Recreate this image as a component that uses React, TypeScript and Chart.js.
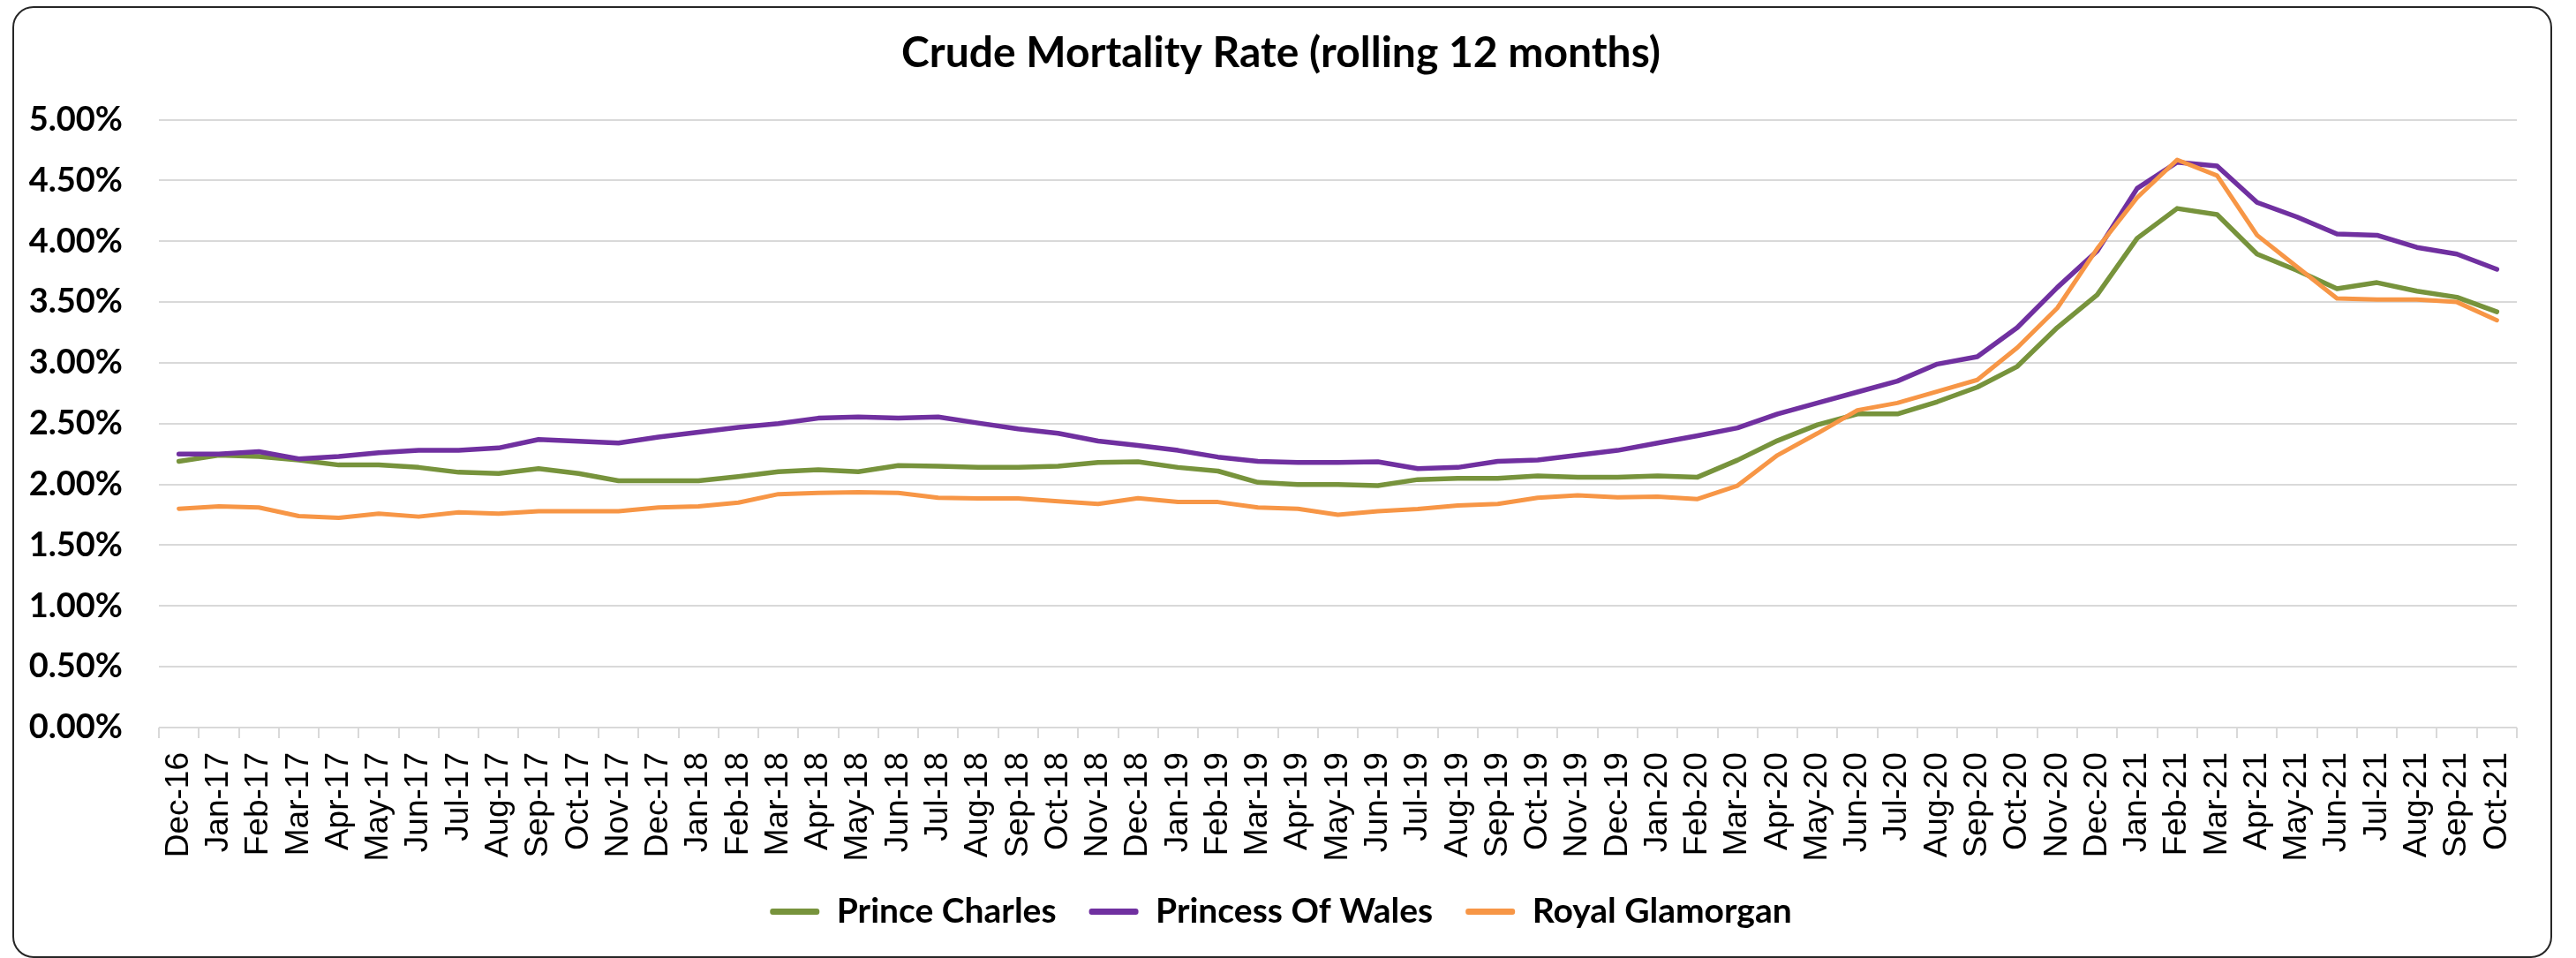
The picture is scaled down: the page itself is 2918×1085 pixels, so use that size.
import React, { useEffect, useRef } from "react";
import { Chart, registerables } from "chart.js";

Chart.register(...registerables);

const categories = [
  "Dec-16",
  "Jan-17", "Feb-17", "Mar-17", "Apr-17", "May-17", "Jun-17", "Jul-17", "Aug-17", "Sep-17", "Oct-17", "Nov-17", "Dec-17",
  "Jan-18", "Feb-18", "Mar-18", "Apr-18", "May-18", "Jun-18", "Jul-18", "Aug-18", "Sep-18", "Oct-18", "Nov-18", "Dec-18",
  "Jan-19", "Feb-19", "Mar-19", "Apr-19", "May-19", "Jun-19", "Jul-19", "Aug-19", "Sep-19", "Oct-19", "Nov-19", "Dec-19",
  "Jan-20", "Feb-20", "Mar-20", "Apr-20", "May-20", "Jun-20", "Jul-20", "Aug-20", "Sep-20", "Oct-20", "Nov-20", "Dec-20",
  "Jan-21", "Feb-21", "Mar-21", "Apr-21", "May-21", "Jun-21", "Jul-21", "Aug-21", "Sep-21", "Oct-21",
];

// values in percent
const princeCharles = [
  2.19, 2.24, 2.23, 2.2, 2.16, 2.16, 2.14, 2.1, 2.09, 2.13, 2.09, 2.03, 2.03,
  2.03, 2.065, 2.105, 2.12, 2.105, 2.155, 2.15, 2.14, 2.14, 2.15, 2.18, 2.186,
  2.14, 2.11, 2.017, 2.0, 2.0, 1.99, 2.04, 2.05, 2.05, 2.07, 2.06, 2.06,
  2.07, 2.06, 2.2, 2.36, 2.49, 2.58, 2.58, 2.68, 2.8, 2.97, 3.29, 3.56,
  4.025, 4.27, 4.22, 3.895, 3.76, 3.61, 3.66, 3.59, 3.54, 3.42,
];

const princessOfWales = [
  2.25, 2.25, 2.27, 2.21, 2.23, 2.26, 2.28, 2.28, 2.3, 2.37, 2.355, 2.34, 2.39,
  2.43, 2.47, 2.5, 2.545, 2.555, 2.545, 2.555, 2.505, 2.457, 2.42, 2.357, 2.32,
  2.28, 2.225, 2.19, 2.18, 2.18, 2.186, 2.13, 2.14, 2.19, 2.2, 2.24, 2.28,
  2.34, 2.4, 2.465, 2.58, 2.67, 2.76, 2.85, 2.99, 3.05, 3.29, 3.62, 3.92,
  4.435, 4.65, 4.62, 4.32, 4.2, 4.06, 4.05, 3.95, 3.895, 3.77,
];

const royalGlamorgan = [
  1.8, 1.82, 1.81, 1.74, 1.725, 1.76, 1.735, 1.77, 1.76, 1.78, 1.78, 1.78, 1.81,
  1.82, 1.85, 1.92, 1.93, 1.935, 1.93, 1.89, 1.884, 1.884, 1.862, 1.84, 1.886,
  1.855, 1.855, 1.81, 1.8, 1.75, 1.78, 1.797, 1.826, 1.84, 1.89, 1.91, 1.894,
  1.9, 1.88, 1.99, 2.24, 2.42, 2.61, 2.67, 2.765, 2.86, 3.125, 3.45, 3.94,
  4.36, 4.67, 4.54, 4.05, 3.79, 3.53, 3.52, 3.52, 3.5, 3.35,
];

const seriesNames = ["Prince Charles", "Princess Of Wales", "Royal Glamorgan"];
const seriesColors = ["#77933C", "#7030A0", "#F79646"];
const yMin = 0;
const yMax = 5;
const yStep = 0.5;
const titleText = "Crude Mortality Rate (rolling 12 months)";

const CANVAS_W = 2873;
const CANVAS_H = 1074;

export default function App() {
  const ref = useRef<HTMLCanvasElement | null>(null);

  useEffect(() => {
    if (!ref.current) return;
    const values = [princeCharles, princessOfWales, royalGlamorgan];
    const widths = [5.5, 5.5, 5];
    const orders = [2, 1, 0];
    const chart = new Chart(ref.current, {
      type: "line",
      data: {
        labels: categories,
        datasets: seriesNames.map((name, i) => ({
          label: name,
          data: values[i],
          borderColor: seriesColors[i],
          backgroundColor: seriesColors[i],
          borderWidth: widths[i],
          pointRadius: 0,
          pointHoverRadius: 0,
          tension: 0,
          fill: false,
          borderJoinStyle: "round" as const,
          borderCapStyle: "round" as const,
          yAxisID: "y",
          order: orders[i],
        })),
      },
      options: {
        responsive: false,
        animation: false,
        maintainAspectRatio: false,
        layout: { padding: { left: 0, right: 3, top: 0, bottom: 21 } },
        plugins: {
          tooltip: { enabled: false },
          title: {
            display: true,
            text: titleText,
            color: "#000",
            font: { family: "Lato", weight: "bold", size: 48, lineHeight: 1.2 },
            padding: { top: 23, bottom: 46 },
          },
          legend: {
            position: "bottom",
            labels: {
              boxWidth: 56,
              boxHeight: 7,
              padding: 37,
              color: "#000",
              useBorderRadius: true,
              borderRadius: 3,
              font: { family: "Lato", weight: "bold", size: 39 },
              generateLabels: (c: any) =>
                c.data.datasets.map((ds: any, i: number) => ({
                  text: ds.label,
                  fillStyle: ds.borderColor,
                  strokeStyle: ds.borderColor,
                  lineWidth: 0,
                  hidden: false,
                  datasetIndex: i,
                  borderRadius: 3,
                  fontColor: "#000",
                })),
              sort: (a: any, b: any) => a.datasetIndex - b.datasetIndex,
            },
          },
        },
        scales: {
          x: {
            type: "category",
            offset: true,
            grid: {
              display: true,
              drawOnChartArea: false,
              drawTicks: true,
              tickLength: 12,
              offset: true,
              color: "#d9d9d9",
              lineWidth: 2,
            },
            border: { display: false },
            ticks: {
              autoSkip: false,
              maxRotation: 90,
              minRotation: 90,
              padding: 16,
              color: "#000",
              font: { family: "Liberation Sans", size: 37 },
            },
            afterFit: (s: any) => {
              s.height = 152;
            },
          },
          y: {
            type: "linear",
            position: "left",
            min: yMin,
            max: yMax,
            grid: { color: "#d9d9d9", lineWidth: 2, drawTicks: false },
            border: { display: false },
            ticks: {
              stepSize: yStep,
              padding: 41,
              color: "#000",
              font: { family: "Lato", weight: "bold", size: 38 },
              callback: (v: any) => Number(v).toFixed(2) + "%",
            },
            afterFit: (s: any) => {
              s.width = 164;
            },
          },
          yRight: {
            type: "linear",
            position: "right",
            display: true,
            grid: { display: false, drawTicks: false },
            border: { display: false },
            ticks: { display: false },
            afterFit: (s: any) => {
              s.width = 27;
            },
          },
        },
      },
    } as any);
    return () => chart.destroy();
  }, []);

  return (
    <div
      style={{
        position: "fixed",
        left: 14,
        top: 7,
        width: CANVAS_W + 4,
        height: CANVAS_H + 4,
        boxSizing: "border-box",
        border: "2px solid #262626",
        borderRadius: 24,
        background: "#fff",
      }}
    >
      <canvas
        ref={ref}
        width={CANVAS_W}
        height={CANVAS_H}
        style={{ display: "block", width: CANVAS_W, height: CANVAS_H }}
      />
    </div>
  );
}
